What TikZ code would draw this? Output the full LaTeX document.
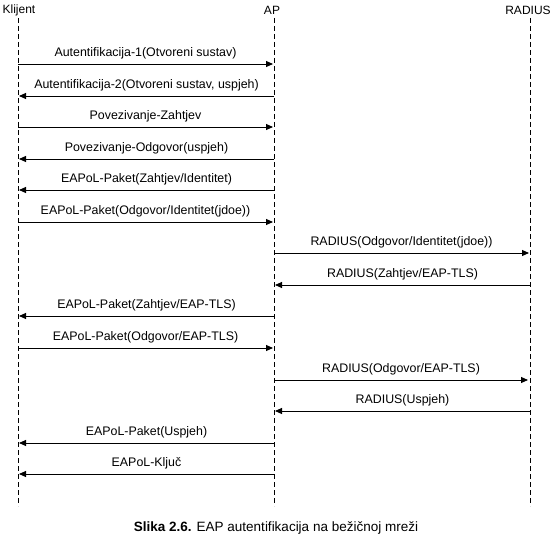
\documentclass[tikz,border=0pt]{standalone}
\usepackage{fontspec}
\setmainfont{Liberation Sans}
\usetikzlibrary{arrows.meta, positioning}

\tikzset{
    lifeline/.style={draw, line width=0.9pt, dash pattern=on 5pt off 3pt},
    msg/.style={draw, line width=0.9pt, -{Triangle[length=7pt,width=6pt]}},
    msglabel/.style={midway, above, inner sep=0pt, yshift=4pt, font=\fontsize{12.4}{14}\selectfont},
    actor/.style={inner sep=0pt, font=\fontsize{12}{14}\selectfont}
}

\begin{document}
\begin{tikzpicture}[x=1pt, y=-1pt]
    \useasboundingbox (0,0) rectangle (552,543);

    % Actors
    \node[actor] (kl) at (19,10) {Klijent};
    \node[actor] (ap) at (272,10) {AP};
    \node[actor] (rad) at (528,10) {RADIUS};

    % Lifelines
    \coordinate (klend) at (18,506);
    \coordinate (apend) at (274,506);
    \coordinate (radend) at (530,506);
    \draw[lifeline] (18,18) -- (klend);
    \draw[lifeline] (274,18) -- (apend);
    \draw[lifeline] (530,18) -- (radend);

    % Messages
    \foreach \i/\y/\xa/\xb/\txt in {
        1/64/18/273/{Autentifikacija-1(Otvoreni sustav)},
        2/96/274/19/{Autentifikacija-2(Otvoreni sustav, uspjeh)},
        3/127/18/273/{Povezivanje-Zahtjev},
        4/159/274/19/{Povezivanje-Odgovor(uspjeh)},
        5/190/274/19/{EAPoL-Paket(Zahtjev/Identitet)},
        6/222/18/273/{EAPoL-Paket(Odgovor/Identitet(jdoe))},
        7/253/274/529/{RADIUS(Odgovor/Identitet(jdoe))},
        8/285/530/275/{RADIUS(Zahtjev/EAP-TLS)},
        9/316/274/19/{EAPoL-Paket(Zahtjev/EAP-TLS)},
        10/348/18/273/{EAPoL-Paket(Odgovor/EAP-TLS)},
        11/380/274/528/{RADIUS(Odgovor/EAP-TLS)},
        12/411/530/275/{RADIUS(Uspjeh)},
        13/443/274/19/{EAPoL-Paket(Uspjeh)},
        14/474/274/19/{EAPoL-Ključ}}
    {
        \coordinate (s\i) at (\xa,\y);
        \coordinate (e\i) at (\xb,\y);
        \draw[msg] (s\i) -- (e\i) node[msglabel] {\txt};
    }

    % Caption
    \node[actor, font=\fontsize{13.5}{16}\selectfont] (caption) at (276,528) {\textbf{Slika 2.6.} EAP autentifikacija na bežičnoj mreži};
\end{tikzpicture}
\end{document}
